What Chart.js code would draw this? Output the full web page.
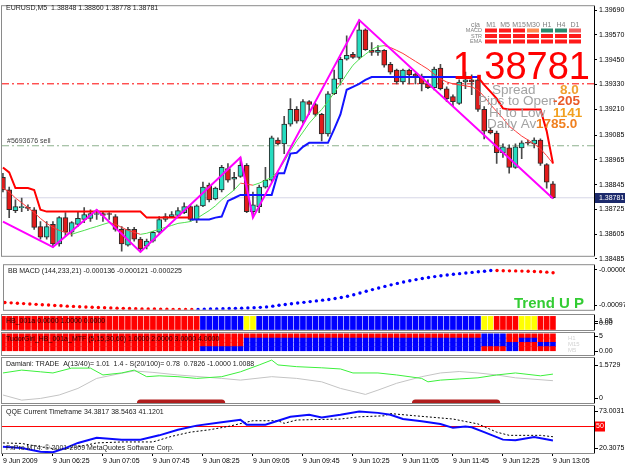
<!DOCTYPE html>
<html>
<head>
<meta charset="utf-8">
<script src="https://cdn.jsdelivr.net/npm/chart.js@4.4.1/dist/chart.umd.min.js"></script>
<style>
  html, body { margin: 0; padding: 0; background: #fff; }
  #wrap { position: relative; width: 625px; height: 469px; overflow: hidden; background: #fff; }
  canvas { position: absolute; left: 0; }
</style>
</head>
<body>
<div id="wrap">
  <canvas id="cMain" width="625" height="262" style="top:0px"></canvas>
  <canvas id="cMacd" width="625" height="57" style="top:259px"></canvas>
  <canvas id="cHb" width="625" height="21" style="top:312px"></canvas>
  <canvas id="cTudor" width="625" height="28" style="top:330px"></canvas>
  <canvas id="cDam" width="625" height="51" style="top:355px"></canvas>
  <canvas id="cQqe" width="625" height="67" style="top:402px"></canvas>
</div>
<script>
// ---- price data (EURUSD M5, 05:45 .. 13:05) ----
var symbol = 'EURUSD,M5';
var opens = [1.38880,1.38819,1.38719,1.38733,1.38733,1.38723,1.38642,1.38590,1.38652,1.38557,
  1.38685,1.38614,1.38652,1.38676,1.38681,1.38700,1.38704,1.38704,1.38690,1.38628,
  1.38552,1.38628,1.38581,1.38547,1.38571,1.38614,1.38676,1.38690,1.38695,1.38709,
  1.38738,1.38676,1.38742,1.38842,1.38776,1.38819,1.38923,1.38871,1.38885,1.38938,
  1.38714,1.38738,1.38833,1.38866,1.39061,1.39042,1.39138,1.39209,1.39152,1.39247,
  1.39233,1.39185,1.39090,1.39285,1.39357,1.39452,1.39476,1.39461,1.39595,1.39495,
  1.39485,1.39495,1.39428,1.39399,1.39342,1.39399,1.39380,1.39371,1.39333,1.39314,
  1.39409,1.39309,1.39271,1.39238,1.39342,1.39352,1.39352,1.39209,1.39109,1.39095,
  1.38999,1.39023,1.38928,1.39023,1.39047,1.39042,1.39061,1.38942,1.38848];
var highs = [1.38900,1.38833,1.38771,1.38780,1.38747,1.38733,1.38666,1.38666,1.38666,1.38690,
  1.38709,1.38666,1.38714,1.38733,1.38723,1.38723,1.38714,1.38709,1.38700,1.38642,
  1.38638,1.38638,1.38590,1.38581,1.38619,1.38690,1.38704,1.38714,1.38733,1.38757,
  1.38747,1.38747,1.38857,1.38852,1.38833,1.38938,1.38947,1.38904,1.38976,1.38947,
  1.38809,1.38842,1.38928,1.39080,1.39071,1.39176,1.39261,1.39223,1.39257,1.39252,
  1.39238,1.39190,1.39295,1.39399,1.39461,1.39566,1.39485,1.39642,1.39599,1.39533,
  1.39518,1.39499,1.39437,1.39404,1.39404,1.39404,1.39385,1.39380,1.39352,1.39414,
  1.39428,1.39318,1.39280,1.39352,1.39390,1.39376,1.39357,1.39223,1.39119,1.39104,
  1.39042,1.39038,1.39042,1.39057,1.39061,1.39071,1.39066,1.38947,1.38860];
var lows = [1.38809,1.38685,1.38709,1.38714,1.38719,1.38628,1.38581,1.38581,1.38542,1.38547,
  1.38595,1.38595,1.38642,1.38661,1.38666,1.38676,1.38666,1.38676,1.38619,1.38523,
  1.38547,1.38571,1.38519,1.38533,1.38566,1.38609,1.38666,1.38685,1.38690,1.38704,
  1.38666,1.38661,1.38738,1.38761,1.38771,1.38809,1.38857,1.38819,1.38880,1.38709,
  1.38685,1.38709,1.38828,1.38857,1.39038,1.38995,1.39128,1.39142,1.39142,1.39185,
  1.39176,1.39057,1.39080,1.39280,1.39328,1.39447,1.39456,1.39452,1.39495,1.39471,
  1.39471,1.39414,1.39380,1.39333,1.39333,1.39333,1.39333,1.39299,1.39309,1.39304,
  1.39304,1.39247,1.39223,1.39233,1.39309,1.39280,1.39199,1.39066,1.39090,1.38947,
  1.38976,1.38900,1.38923,1.38971,1.39038,1.39023,1.38938,1.38828,1.38778];
var closes = [1.38819,1.38723,1.38738,1.38738,1.38730,1.38638,1.38590,1.38642,1.38557,1.38685,
  1.38614,1.38661,1.38681,1.38700,1.38704,1.38704,1.38695,1.38700,1.38628,1.38557,
  1.38628,1.38581,1.38533,1.38571,1.38614,1.38676,1.38690,1.38700,1.38719,1.38738,
  1.38676,1.38742,1.38833,1.38771,1.38828,1.38928,1.38866,1.38880,1.38938,1.38714,
  1.38747,1.38833,1.38866,1.39071,1.39042,1.39138,1.39209,1.39152,1.39247,1.39233,
  1.39185,1.39090,1.39285,1.39357,1.39452,1.39471,1.39461,1.39595,1.39499,1.39485,
  1.39495,1.39423,1.39390,1.39342,1.39399,1.39376,1.39371,1.39333,1.39314,1.39404,
  1.39309,1.39261,1.39247,1.39342,1.39352,1.39342,1.39209,1.39104,1.39095,1.38999,
  1.39028,1.38928,1.39028,1.39047,1.39045,1.39061,1.38947,1.38857,1.38781];

var priceTicks = [1.39690,1.39570,1.39450,1.39330,1.39210,1.39085,1.38965,1.38845,1.38725,1.38605,1.38485];
var timeTickBars = [0,8,16,24,32,40,48,56,64,72,80,88];
var timeTickLabels = ['9 Jun 2009','9 Jun 06:25','9 Jun 07:05','9 Jun 07:45','9 Jun 08:25','9 Jun 09:05',
  '9 Jun 09:45','9 Jun 10:25','9 Jun 11:05','9 Jun 11:45','9 Jun 12:25','9 Jun 13:05'];

// moving average (coloured by slope)
var maLine = [1.38828,1.38809,1.38780,1.38757,1.38733,1.38709,1.38681,1.38657,1.38638,1.38623,
  1.38614,1.38604,1.38614,1.38623,1.38633,1.38642,1.38652,1.38661,1.38652,1.38638,
  1.38623,1.38614,1.38604,1.38609,1.38619,1.38628,1.38638,1.38647,1.38657,1.38661,
  1.38666,1.38681,1.38700,1.38719,1.38742,1.38771,1.38795,1.38819,1.38852,1.38847,
  1.38842,1.38852,1.38866,1.38880,1.38909,1.38957,1.39009,1.39057,1.39099,1.39142,
  1.39176,1.39209,1.39247,1.39290,1.39333,1.39380,1.39423,1.39452,1.39476,1.39499,
  1.39514,1.39518,1.39509,1.39495,1.39480,1.39461,1.39442,1.39423,1.39404,1.39380,
  1.39357,1.39342,1.39333,1.39328,1.39323,1.39318,1.39304,1.39271,1.39233,1.39199,
  1.39166,1.39128,1.39104,1.39080,1.39061,1.39042,1.39018,1.38985,1.38947];

// trend stop lines: [bar, price] corners
var trendRedA = [[0,1.38928],[1,1.38904],[2,1.38828],[4,1.38828],[5,1.38819],[6,1.38723],[7,1.38714],
  [22,1.38714],[23,1.38685],[30,1.38685]];
var trendBlue = [[30,1.38676],[33,1.38676],[34,1.38685],[35,1.38690],[36,1.38766],[37,1.38780],[38,1.38795],
  [43,1.38795],[44,1.38900],[45,1.38900],[46,1.38995],[47,1.38999],[48,1.39028],[49,1.39047],[52,1.39047],
  [53,1.39114],[54,1.39185],[55,1.39304],[56,1.39318],[57,1.39333],[58,1.39352],[59,1.39366],[76,1.39366]];
var trendRedB = [[76,1.39366],[77,1.39328],[78,1.39295],[79,1.39261],[80,1.39214],[81,1.39209],[86,1.39209],
  [87,1.39104],[88,1.38947]];

// zigzag pivots
var zigBars = [0, 8, 15, 22, 38, 40, 57, 88];
var zigVals = [1.38666, 1.38542, 1.38723, 1.38519, 1.38976, 1.38685, 1.39642, 1.38778];

var levelRed = 1.39333;
var levelOrder = 1.39033;

// BB MACD
var macd = [-0.000900,-0.000909,-0.000919,-0.000928,-0.000937,-0.000947,-0.000956,-0.000965,-0.000975,-0.000984,
  -0.000993,-0.001000,-0.001007,-0.001014,-0.001021,-0.001028,-0.001035,-0.001040,-0.001045,-0.001049,
  -0.001054,-0.001059,-0.001063,-0.001066,-0.001068,-0.001070,-0.001073,-0.001075,-0.001076,-0.001077,
  -0.001078,-0.001075,-0.001073,-0.001068,-0.001063,-0.001059,-0.001054,-0.001049,-0.001045,-0.001040,
  -0.001033,-0.001024,-0.001012,-0.000993,-0.000970,-0.000951,-0.000933,-0.000914,-0.000895,-0.000877,
  -0.000858,-0.000839,-0.000821,-0.000797,-0.000772,-0.000741,-0.000702,-0.000657,-0.000613,-0.000569,
  -0.000527,-0.000487,-0.000447,-0.000410,-0.000375,-0.000342,-0.000312,-0.000284,-0.000258,-0.000235,
  -0.000214,-0.000195,-0.000177,-0.000160,-0.000144,-0.000128,-0.000111,-0.000097,-0.000079,-0.000081,
  -0.000086,-0.000088,-0.000090,-0.000095,-0.000100,-0.000104,-0.000111,-0.000121,-0.000136];
var macdTicks = [-0.00006, -0.00097];

// HB_001a and TudorGirl colour runs [state, bars]
var hbRuns = [['r',32],['b',7],['y',2],['b',36],['y',2],['r',4],['y',3],['r',3]];
var tudorH1Runs  = [['r',77],['b',4],['r',8]];
var tudorM30Runs = [['r',39],['b',42],['r',2],['b',3],['r',3]];
var tudorM15Runs = [['r',39],['b',44],['r',3],['b',3]];
var tudorM5Runs  = [['r',32],['b',45],['r',4],['b',2],['r',6]];

// Damiani
var damGreenBars = [0,3,6,8,11,14,16,19,21,23,25,28,31,35,38,41,43,44,47,51,54,56,60,63,67,68,70,73,76,79,82,86,88];
var damGreenVals = [1.05,1.15,1.09,1.05,1.22,1.22,0.98,1.05,1.15,0.92,0.95,0.92,0.86,0.92,1.09,1.33,1.50,1.33,1.27,1.23,1.19,1.05,1.05,0.98,0.86,0.74,0.80,0.84,0.88,0.98,1.05,0.95,1.01];
var damGrayBars = [0,3,6,9,12,15,19,21,24,28,35,38,43,47,51,54,58,60,63,67,70,73,76,79,82,88];
var damGrayVals = [0.28,0.10,0.16,0.28,0.51,0.86,1.04,1.12,1.07,0.98,0.86,0.80,0.92,0.86,0.74,0.51,0.30,0.45,0.69,0.92,1.05,1.10,1.05,0.98,0.88,0.78];
var damBlocks = [[22,35],[66,79]];

// QQE
var qqeBars = [0,3,6,8,10,12,15,19,22,25,28,31,35,38,39,42,44,46,49,51,54,57,60,62,64,67,70,72,74,75,77,80,82,85,88];
var qqeVals = [27.2,25.8,21.7,21.1,25.8,31.6,37.5,35.3,35.3,40.1,46.3,51.0,54.7,57.6,52.1,52.1,56.5,60.9,63.1,60.2,63.1,66.7,65.3,63.1,58.4,55.8,52.9,48.5,49.9,49.2,43.7,35.3,34.6,38.2,34.38];
var qqeTrBars = [0,3,6,9,12,15,19,24,27,30,33,36,40,44,45,47,54,57,61,62,66,72,76,79,81,86,88];
var qqeTrVals = [31.6,31.0,27.2,24.4,27.2,31.6,32.7,32.7,39.0,43.7,46.3,50.0,56.5,56.5,53.6,57.3,58.4,60.9,62.0,64.5,62.0,58.4,52.9,43.7,40.1,40.1,38.55];

// dashboard states
var dashCols = ['M1','M5','M15','M30','H1','H4','D1'];
var dashMacd = ['r','r','r','o','g','g','s'];
var dashStr  = ['r','r','r','r','r','r','r'];
var dashEma  = ['r','r','r','r','r','r','r'];

// ---- helpers ----
Chart.defaults.font.family = '"Liberation Sans", Arial, sans-serif';
Chart.defaults.font.size = 7;
Chart.defaults.color = '#000';

var FONT = '"Liberation Sans", Arial, sans-serif';
var xMin = -0.15, xMax = 94.57;
var nBars = opens.length;
var bars = opens.map(function (_, i) { return i; });

function expand(runs) {
  var out = [];
  runs.forEach(function (r) { for (var k = 0; k < r[1]; k++) out.push(r[0]); });
  return out;
}
var stateColor = { r: '#ff0000', b: '#0000ff', y: '#ffff00' };
function pairs(list) { return list.map(function (p) { return { x: p[0], y: p[1] }; }); }
function zipXY(xs, ys) { return xs.map(function (x, k) { return { x: x, y: ys[k] }; }); }

function xAxis(show) {
  return { type: 'linear', min: xMin, max: xMax, offset: false, display: show, grid: { offset: false } };
}
function yAxis(extra) {
  var base = {
    position: 'right', offset: false,
    afterFit: function (s) { s.width = 31; },
    border: { display: true, color: '#000' },
    grid: { drawOnChartArea: false, drawTicks: false },
    ticks: { display: false }
  };
  return Object.assign(base, extra);
}
function opts(pad, scales, panel) {
  return {
    responsive: false, animation: false, devicePixelRatio: 1, events: [],
    layout: { padding: pad },
    plugins: { legend: { display: false }, tooltip: { enabled: false }, panel: panel || {} },
    scales: scales
  };
}

var panelPlugin = {
  id: 'panel',
  afterDraw: function (chart, args, o) {
    var ctx = chart.ctx, a = chart.chartArea;
    ctx.save();
    ctx.strokeStyle = '#8a8a8a';
    ctx.lineWidth = 1;
    ctx.strokeRect(a.left - 0.5, a.top - 0.5, a.right - a.left + 1, a.bottom - a.top + 1);
    ctx.strokeStyle = '#000';
    ctx.beginPath(); ctx.moveTo(a.right + 0.5, a.top); ctx.lineTo(a.right + 0.5, a.bottom); ctx.stroke();
    ctx.textBaseline = 'middle';
    if (o.title) {
      ctx.font = '7px ' + FONT;
      ctx.fillStyle = o.titleColor || '#1a1a1a';
      ctx.textAlign = 'left';
      ctx.fillText(o.title, a.left + 4, a.top + 6);
    }
    (o.labels || []).forEach(function (l) {
      var y = l.top !== undefined ? a.top + l.top : a.bottom - l.bottom;
      ctx.fillStyle = '#000';
      ctx.fillRect(a.right + 1, Math.round(y), 3, 1);
      ctx.font = '7px ' + FONT;
      ctx.textAlign = 'left';
      ctx.fillText(l.text, a.right + 5, y);
    });
    if (o.level) {
      var ly = chart.scales.y.getPixelForValue(o.level.value);
      ctx.fillStyle = '#ff0000';
      ctx.fillRect(a.right + 1, ly - 5, 10, 10);
      ctx.fillStyle = '#ffffff';
      ctx.font = '7px ' + FONT;
      ctx.textAlign = 'left';
      ctx.fillText(o.level.text, a.right + 2, ly);
    }
    (o.texts || []).forEach(function (t) {
      ctx.font = t.font;
      ctx.fillStyle = t.color;
      ctx.textAlign = t.align || 'left';
      ctx.textBaseline = t.baseline || 'middle';
      ctx.fillText(t.text, t.x, t.y);
    });
    ctx.restore();
  }
};
Chart.register(panelPlugin);

// ---- main price chart ----
var bull = '#26dcc0', bear = '#e31b1b';
var mainExtras = {
  id: 'mainExtras',
  afterDraw: function (chart) {
    var ctx = chart.ctx, a = chart.chartArea, ys = chart.scales.y;
    var last = nBars - 1;
    ctx.save();
    ctx.textBaseline = 'middle';
    ctx.textAlign = 'left';
    ctx.font = '7px ' + FONT;
    ctx.fillStyle = '#1e1e1e';
    ctx.fillText(symbol + '  ' + opens[last].toFixed(5) + ' ' + highs[last].toFixed(5) + ' ' +
      lows[last].toFixed(5) + ' ' + closes[last].toFixed(5), 6, 8);
    ctx.fillStyle = '#404040';
    ctx.fillText('#5693676 sell', 7, ys.getPixelForValue(levelOrder) - 5);

    // timeframe dashboard
    ctx.fillStyle = '#808080';
    ctx.textAlign = 'right';
    ctx.fillText('cja', 480, 25);
    ctx.textAlign = 'center';
    var colX = [485, 499, 513, 527, 541, 555, 569];
    dashCols.forEach(function (c, i) { ctx.fillText(c, colX[i] + 6, 25); });
    var dashColor = { r: '#ff1a1a', o: '#ff8a50', g: '#2a8a6e', s: '#f26060' };
    var rows = [['MACD', dashMacd, 30.5], ['STR', dashStr, 36], ['EMA', dashEma, 41.5]];
    rows.forEach(function (r) {
      ctx.font = '5.5px ' + FONT;
      ctx.fillStyle = '#808080';
      ctx.textAlign = 'right';
      ctx.fillText(r[0], 482, r[2]);
      r[1].forEach(function (s, i) {
        ctx.fillStyle = dashColor[s];
        ctx.fillRect(colX[i], r[2] - 2, 12, 4);
      });
    });

    // big bid
    ctx.font = '38px ' + FONT;
    ctx.fillStyle = '#ff0000';
    ctx.textAlign = 'right';
    ctx.textBaseline = 'alphabetic';
    ctx.fillText(closes[last].toFixed(5), 590, 79);

    var info = [['Spread', '8.0', 492, 560, 94, '#f0a030'],
                ['Pips to Open', '-205', 478, 553, 105, '#ea5a28'],
                ['Hi to Low', '1141', 489, 553, 117, '#f2a020'],
                ['Daily Av', '1785.0', 487, 536, 128, '#f08020']];
    info.forEach(function (r) {
      ctx.font = '13.5px ' + FONT;
      ctx.fillStyle = '#a3a3a3';
      ctx.textAlign = 'left';
      ctx.fillText(r[0], r[2], r[4]);
      ctx.font = 'bold 13.5px ' + FONT;
      ctx.fillStyle = r[5];
      ctx.fillText(r[1], r[3], r[4]);
    });

    // bid price tag on the axis
    var py = ys.getPixelForValue(closes[last]);
    ctx.fillStyle = '#1c2a6c';
    ctx.fillRect(a.right + 1, Math.round(py) - 5, 30, 10);
    ctx.fillStyle = '#ffffff';
    ctx.font = '7px ' + FONT;
    ctx.textAlign = 'left';
    ctx.textBaseline = 'middle';
    ctx.fillText(closes[last].toFixed(5), a.right + 5, py);
    ctx.restore();
  }
};

function levelLine(value, color, dash, order) {
  return { type: 'line', data: [{ x: xMin, y: value }, { x: xMax, y: value }], borderColor: color,
    borderWidth: 1, borderDash: dash, pointRadius: 0, order: order };
}

new Chart(document.getElementById('cMain'), {
  type: 'line',
  data: {
    datasets: [
      levelLine(levelRed, '#ff0000', [7, 3, 2, 3], 20),
      levelLine(levelOrder, '#8db08d', [7, 3, 2, 3], 20),
      levelLine(closes[nBars - 1], '#d6d6e6', [], 20),
      { type: 'bar', grouped: false, order: 15, barThickness: 1, backgroundColor: '#4a4a4a',
        data: bars.map(function (i) { return { x: i, y: [lows[i], highs[i]] }; }) },
      { type: 'bar', grouped: false, order: 14, barThickness: 5, borderWidth: 1, borderColor: '#2b2b2b',
        borderSkipped: false, minBarLength: 1,
        backgroundColor: bars.map(function (i) { return closes[i] >= opens[i] ? bull : bear; }),
        data: bars.map(function (i) { return { x: i, y: [opens[i], closes[i]] }; }) },
      { type: 'line', order: 6, data: bars.map(function (i) { return { x: i, y: maLine[i] }; }),
        borderWidth: 1, pointRadius: 0, borderColor: '#ff3b3b',
        segment: { borderColor: function (c) { return c.p1.parsed.y >= c.p0.parsed.y ? '#4fe04f' : '#ff3b3b'; } } },
      { type: 'line', order: 5, data: pairs(trendRedA), borderColor: '#ff0000', borderWidth: 2, pointRadius: 0 },
      { type: 'line', order: 5, data: pairs(trendBlue), borderColor: '#1414ff', borderWidth: 2, pointRadius: 0 },
      { type: 'line', order: 5, data: pairs(trendRedB), borderColor: '#ff0000', borderWidth: 2, pointRadius: 0 },
      { type: 'line', order: 4, data: zipXY(zigBars, zigVals), borderColor: '#ff00ff', borderWidth: 2, pointRadius: 0 }
    ]
  },
  options: opts({ left: 2, right: 0, top: 3, bottom: 5 }, {
    x: xAxis(false),
    y: yAxis({
      min: 1.38500, max: 1.39709,
      afterBuildTicks: function (s) { s.ticks = priceTicks.map(function (v) { return { value: v }; }); },
      grid: { drawOnChartArea: false, drawTicks: true, tickLength: 3, color: '#000' },
      ticks: { display: true, padding: 2, color: '#000', callback: function (v) { return v.toFixed(5); } }
    })
  }, {}),
  plugins: [mainExtras]
});

// ---- BB MACD ----
new Chart(document.getElementById('cMacd'), {
  type: 'line',
  data: { datasets: [{
    data: bars.map(function (i) { return { x: i, y: macd[i] }; }),
    showLine: false, pointRadius: 1.7, pointBorderWidth: 0,
    pointBackgroundColor: bars.map(function (i) { return i > 0 && macd[i] > macd[i - 1] ? '#0000ff' : '#ff0000'; })
  }] },
  options: opts({ left: 2, right: 0, top: 4, bottom: 4 }, {
    x: xAxis(false),
    y: yAxis({
      min: -0.0010866, max: 0.0000567,
      afterBuildTicks: function (s) { s.ticks = macdTicks.map(function (v) { return { value: v }; }); },
      grid: { drawOnChartArea: false, drawTicks: true, tickLength: 3, color: '#000' },
      ticks: { display: true, padding: 2, color: '#000', callback: function (v) { return v.toFixed(5); } }
    })
  }, {
    title: 'BB MACD (144,233,21) -0.000136 -0.000121 -0.000225',
    texts: [{ text: 'Trend U P', x: 514, y: 49, font: 'bold 15px ' + FONT, color: '#33cc33', baseline: 'alphabetic' }]
  })
});

// ---- HB_001a ----
var hbState = expand(hbRuns);
new Chart(document.getElementById('cHb'), {
  type: 'bar',
  data: { datasets: [{
    grouped: false, barThickness: 5,
    data: bars.map(function (i) { return { x: i, y: [0, 1] }; }),
    backgroundColor: hbState.map(function (s) { return stateColor[s]; })
  }] },
  options: opts({ left: 2, right: 0, top: 3, bottom: 3 }, {
    x: xAxis(false), y: yAxis({ min: 0, max: 1.1 })
  }, {
    title: 'HB_001a 0.0000 1.0000 0.0000', titleColor: '#2a0000',
    labels: [{ text: '1.05', top: 6 }, { text: '0.00', top: 8 }]
  })
});

// ---- TudorGirl MTF ----
var tudorRows = [expand(tudorM5Runs), expand(tudorM15Runs), expand(tudorM30Runs), expand(tudorH1Runs)];
new Chart(document.getElementById('cTudor'), {
  type: 'bar',
  data: { datasets: tudorRows.map(function (row, k) {
    return {
      grouped: false, barThickness: 5,
      data: bars.map(function (i) { return { x: i, y: [k + 1, k + 2] }; }),
      backgroundColor: row.map(function (s) { return stateColor[s]; })
    };
  }) },
  options: opts({ left: 2, right: 0, top: 3, bottom: 3 }, {
    x: xAxis(false), y: yAxis({ min: 0, max: 5.2 })
  }, {
    title: 'TudorGirl_HB_001a_MTF (5,15,30,60) 1.0000 2.0000 3.0000 4.0000', titleColor: '#2a0000',
    labels: [{ text: '5', top: 3 }, { text: '0.00', bottom: 4 }],
    texts: [
      { text: 'H1', x: 568, y: 8, font: '6px ' + FONT, color: '#d2d2d2' },
      { text: 'M15', x: 568, y: 14, font: '6px ' + FONT, color: '#d2d2d2' },
      { text: 'M5', x: 568, y: 20, font: '6px ' + FONT, color: '#d2d2d2' }
    ]
  })
});

// ---- Damiani volatmeter ----
new Chart(document.getElementById('cDam'), {
  type: 'line',
  data: { datasets: [
    { data: zipXY(damGrayBars, damGrayVals), borderColor: '#c4c4c4', borderWidth: 1, pointRadius: 0, order: 3 },
    { data: zipXY(damGreenBars, damGreenVals), borderColor: '#3cf03c', borderWidth: 1, pointRadius: 0, order: 2 }
  ].concat(damBlocks.map(function (b) {
    return { data: [{ x: b[0], y: 0 }, { x: b[1], y: 0 }], borderColor: '#b01e1e', borderWidth: 7,
      borderCapStyle: 'round', pointRadius: 0, clip: 0, order: 1 };
  })) },
  options: opts({ left: 2, right: 0, top: 3, bottom: 3 }, {
    x: xAxis(false), y: yAxis({ min: 0, max: 1.5729 })
  }, {
    title: 'Damiani: TRADE  A(13/40)= 1.01  1.4 - S(20/100)= 0.78  0.7826 -1.0000 1.0088',
    labels: [{ text: '1.5729', top: 7 }, { text: '0', bottom: 5 }]
  })
});

// ---- QQE ----
new Chart(document.getElementById('cQqe'), {
  type: 'line',
  data: { datasets: [
    { data: [{ x: xMin, y: 50 }, { x: xMax, y: 50 }], borderColor: '#ff0000', borderWidth: 1, pointRadius: 0, order: 3 },
    { data: zipXY(qqeTrBars, qqeTrVals), borderColor: '#000', borderWidth: 1, borderDash: [2, 2], pointRadius: 0, order: 2 },
    { data: zipXY(qqeBars, qqeVals), borderColor: '#0a0aff', borderWidth: 2, pointRadius: 0, order: 1 }
  ] },
  options: opts({ left: 2, right: 0, top: 4, bottom: 0 }, {
    x: {
      type: 'linear', min: xMin, max: xMax, offset: false, position: 'bottom',
      afterFit: function (s) { s.height = 16; },
      afterBuildTicks: function (s) { s.ticks = timeTickBars.map(function (v) { return { value: v }; }); },
      border: { display: true, color: '#000' },
      grid: { offset: false, drawOnChartArea: false, drawTicks: true, tickLength: 3, color: '#000' },
      ticks: { align: 'start', maxRotation: 0, autoSkip: false, padding: 1, color: '#000',
        callback: function (v) { var k = timeTickBars.indexOf(v); return k < 0 ? '' : timeTickLabels[k]; } }
    },
    y: yAxis({ min: 20.3075, max: 73.0031 })
  }, {
    title: 'QQE Current Timeframe 34.3817 38.5463 41.1201',
    labels: [{ text: '73.0031', top: 5 }, { text: '20.3075', bottom: 5 }],
    level: { value: 50, text: '50' },
    texts: [{ text: 'FxPro MT4: \u00a9 2001-2009 MetaQuotes Software Corp.', x: 6, y: 46, font: '7px ' + FONT, color: '#222' }]
  })
});
</script>
</body>
</html>
